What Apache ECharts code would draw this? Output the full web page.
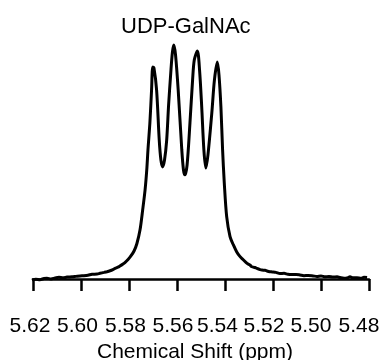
<!DOCTYPE html>
<html>
<head>
<meta charset="utf-8">
<script src="https://cdn.jsdelivr.net/npm/echarts@6/dist/echarts.min.js"></script>
<style>
  html, body { margin: 0; padding: 0; background: #fff; }
  #chart { width: 385px; height: 360px; }
</style>
</head>
<body>
<div id="chart"></div>
<script>
// chemical shift (ppm), high to low
const shifts = [
  5.6204, 5.6188, 5.6171, 5.6154, 5.6142, 5.6125, 5.6108, 5.6092, 5.6075, 5.6058,
  5.6038, 5.6021, 5.6004, 5.5988, 5.5971, 5.5954, 5.5933, 5.5921, 5.5904, 5.5892,
  5.5879, 5.5867, 5.5858, 5.5846, 5.5838, 5.5825, 5.5817, 5.5804, 5.5792, 5.5779,
  5.5767, 5.5754, 5.5743, 5.5733, 5.5726, 5.5721, 5.5713, 5.5706, 5.5701, 5.5696,
  5.5685, 5.5674, 5.5667, 5.5660, 5.5652, 5.5643, 5.5635, 5.5626, 5.5619, 5.5613,
  5.5606, 5.5595, 5.5580, 5.5573, 5.5567, 5.5558, 5.5546, 5.5535, 5.5528, 5.5515,
  5.5506, 5.5497, 5.5488, 5.5480, 5.5471, 5.5455, 5.5444, 5.5432, 5.5425, 5.5417,
  5.5410, 5.5403, 5.5393, 5.5379, 5.5365, 5.5351, 5.5338, 5.5325, 5.5308, 5.5296,
  5.5288, 5.5275, 5.5267, 5.5254, 5.5246, 5.5233, 5.5225, 5.5213, 5.5204, 5.5188,
  5.5171, 5.5154, 5.5138, 5.5121, 5.5104, 5.5088, 5.5071, 5.5054, 5.5033, 5.5017,
  5.5000, 5.4983, 5.4967, 5.4950, 5.4933, 5.4921, 5.4904, 5.4892, 5.4879, 5.4867,
  5.4850, 5.4833, 5.4821, 5.4808
];
// relative intensity (tallest peak ~100)
const intensity = [
  -0.4, -0.1, -0.3, 0.2, 0.3, 0.0, 0.4, 0.7, 0.5, 0.8,
  0.9, 1.1, 1.3, 1.4, 1.6, 2.0, 2.1, 2.4, 2.8, 3.1,
  3.5, 4.0, 4.5, 5.0, 5.5, 6.4, 7.0, 8.3, 9.8, 11.9,
  15.1, 20.9, 29.4, 37.9, 46.4, 54.9, 66.4, 80.4, 90.2, 89.8,
  80.4, 59.1, 50.6, 47.7, 50.6, 59.1, 74.0, 87.7, 96.6, 99.6,
  95.3, 80.4, 54.9, 46.4, 44.3, 48.5, 66.4, 84.7, 93.2, 97.0,
  88.9, 73.2, 54.9, 47.2, 52.8, 70.6, 84.7, 92.3, 86.8, 73.2,
  54.9, 40.9, 26.5, 18.0, 14.5, 11.5, 9.6, 8.3, 6.6, 5.9,
  5.2, 4.9, 4.5, 4.0, 3.8, 3.7, 3.4, 3.1, 3.0, 2.8,
  2.3, 2.4, 2.0, 1.9, 1.9, 1.7, 1.4, 1.5, 1.3, 1.1,
  1.3, 0.9, 1.1, 0.8, 0.9, 0.6, 0.3, 0.4, 0.9, 0.5,
  0.5, 0.3, 0.7, 0.6
];
const xTicks = [5.48, 5.50, 5.52, 5.54, 5.56, 5.58, 5.60, 5.62];
// in the original the labels drift left of their ticks; px shift per label
const labelShift = { '5.62': 3, '5.60': 3.5, '5.58': 3.5, '5.56': 4, '5.54': 7.5, '5.52': 9, '5.50': 10, '5.48': 10 };

const font = '"Liberation Sans", Arial, Helvetica, sans-serif';
const chart = echarts.init(document.getElementById('chart'));

const points = shifts.map((s, i) => [s, intensity[i]]);

const rich = {};
Object.keys(labelShift).forEach(k => {
  rich['t' + k.replace('.', '')] = {
    fontFamily: font, fontSize: 21, color: '#000',
    padding: [0, labelShift[k] * 2, 0, 0]
  };
});

chart.setOption({
  animation: false,
  backgroundColor: '#fff',
  title: {
    text: 'UDP-GalNAc',
    left: 116,
    top: 11,
    textStyle: { fontFamily: font, fontSize: 22, fontWeight: 'normal', color: '#000' }
  },
  grid: { left: 33, right: 16, top: 40, bottom: 62, containLabel: false, outerBoundsMode: 'none' },
  xAxis: {
    type: 'value',
    inverse: true,
    min: xTicks[0],
    max: xTicks[xTicks.length - 1],
    interval: 0.02,
    name: 'Chemical Shift (ppm)',
    nameLocation: 'middle',
    nameGap: 34,
    nameTextStyle: { fontFamily: font, fontSize: 21, color: '#000', padding: [0, 12, 0, 0] },
    axisLine: { lineStyle: { color: '#000', width: 2.5 } },
    axisTick: { length: 12, lineStyle: { color: '#000', width: 2.5 } },
    axisLabel: {
      fontFamily: font, fontSize: 21, color: '#000', margin: 18,
      formatter: v => {
        const s = v.toFixed(2);
        return '{t' + s.replace('.', '') + '|' + s + '}';
      },
      rich: rich
    },
    splitLine: { show: false }
  },
  yAxis: {
    type: 'value',
    min: -8.1,
    max: 101.7,
    show: false
  },
  series: [{
    type: 'line',
    data: points,
    showSymbol: false,
    smooth: 0.3,
    lineStyle: { color: '#000', width: 3 }
  }]
});
</script>
</body>
</html>
